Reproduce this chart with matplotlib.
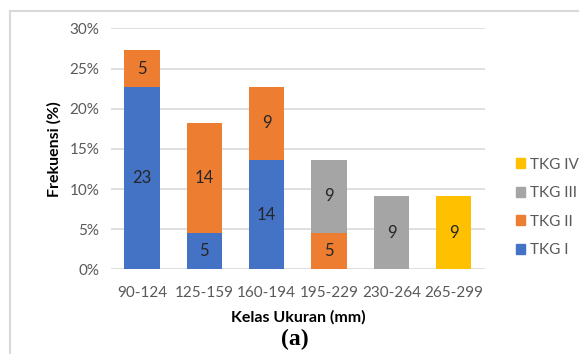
import matplotlib
matplotlib.use('Agg')
import matplotlib.pyplot as plt
from matplotlib.lines import Line2D
from matplotlib.patches import Patch
from matplotlib.font_manager import FontProperties
import numpy as np

plt.rcParams['font.family'] = ['Lato', 'DejaVu Sans']

# kelas ukuran dan frekuensi (%) per TKG
categories = ['90-124', '125-159', '160-194', '195-229', '230-264', '265-299']
series_names = ['TKG I', 'TKG II', 'TKG III', 'TKG IV']
tkg1 = [22.73, 4.55, 13.64, 0, 0, 0]
tkg2 = [4.55, 13.64, 9.09, 4.55, 0, 0]
tkg3 = [0, 0, 0, 9.09, 9.09, 0]
tkg4 = [0, 0, 0, 0, 0, 9.09]
y_ticks = [0, 5, 10, 15, 20, 25, 30]

colors = ['#4472C4', '#ED7D31', '#A5A5A5', '#FFC000']

fig = plt.figure(figsize=(5.79, 3.54), dpi=100)
ax = fig.add_axes([0.1912, 0.2393, 0.6465, 0.6802])

x = np.arange(len(categories))
bottom = np.zeros(len(categories))
for vals, col in zip([tkg1, tkg2, tkg3, tkg4], colors):
    vals = np.array(vals)
    ax.bar(x, vals, 0.566, bottom=bottom, color=col, zorder=3)
    for xi, v, b in zip(x, vals, bottom):
        if v > 0:
            ax.text(xi, b + v / 2, '%.0f' % v, ha='center', va='center',
                    fontsize=12, color='#262626', zorder=4)
    bottom += vals

ax.set_xlim(-0.5, len(categories) - 0.5)
ax.set_ylim(0, 30)
ax.set_yticks(y_ticks)
ax.set_yticklabels(['%d%%' % t for t in y_ticks])
ax.set_xticks(x)
ax.set_xticklabels(categories)
ax.tick_params(length=0, labelsize=11, labelcolor='#595959')
ax.tick_params(axis='x', pad=12)
ax.tick_params(axis='y', pad=8)
ax.grid(axis='y', color='#D9D9D9', linewidth=1.2, zorder=0)
for s in ax.spines.values():
    s.set_visible(False)

ax.set_ylabel('Frekuensi (%)', fontsize=11.5, fontweight='bold', labelpad=6)
ax.set_xlabel('Kelas Ukuran (mm)', fontsize=11.5, fontweight='bold', labelpad=7)

handles = [Patch(color=c) for c in colors][::-1]
fig.legend(handles, series_names[::-1], loc='center left',
           bbox_to_anchor=(0.878, 0.414), frameon=False, fontsize=11,
           handlelength=0.6, handleheight=0.6, handletextpad=0.3,
           labelspacing=0.95, borderpad=0, labelcolor='#595959')

# bingkai luar
fig.add_artist(Line2D([10 / 579, 1], [1 - 11 / 354] * 2, color='#D9D9D9', lw=1.5))
fig.add_artist(Line2D([10 / 579] * 2, [0, 1 - 11 / 354], color='#D9D9D9', lw=1.5))

fp = FontProperties(family='Liberation Serif', weight='bold', size=17)
fig.text(295 / 579, 1 - 339 / 354, '(a)', ha='center', va='center',
         fontproperties=fp)

fig.savefig('out.png', dpi=100)
